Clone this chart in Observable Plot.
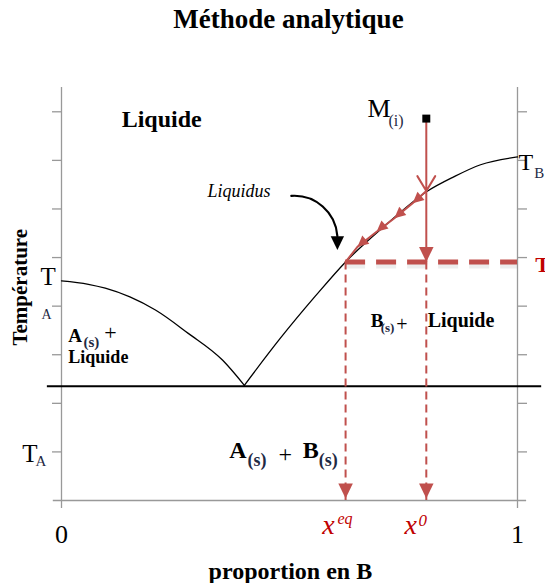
<!DOCTYPE html>
<html><head><meta charset="utf-8">
<script src="https://cdn.jsdelivr.net/npm/d3@7"></script>
<script src="https://cdn.jsdelivr.net/npm/@observablehq/plot@0.6"></script>
<style>
body{margin:0;background:#fff;width:545px;height:583px;overflow:hidden;}
#title{height:44px;padding-top:6px;padding-left:32px;text-align:center;font:bold 27px/27px "Liberation Serif","Times New Roman",Times,"DejaVu Serif",serif;color:#000;}
#chart svg{display:block;}
#chart svg, #chart svg text{font-family:"Liberation Serif","Times New Roman",Times,"DejaVu Serif",serif !important;}
</style></head><body>
<div id="title">Méthode analytique</div>
<div id="chart"></div>
<script>
// ---- data (x = proportion en B, T = temperature in tick units) ----
const liquidusA_x = [0, 0.059, 0.096, 0.15, 0.206, 0.278, 0.353, 0.401];
const liquidusA_T = [4.52, 4.45, 4.37, 4.19, 3.92, 3.44, 2.89, 2.37];
const liquidusB_x = [0.401, 0.480, 0.557, 0.623, 0.711, 0.803, 0.860, 0.919, 1.0];
const liquidusB_T = [2.37, 3.34, 4.21, 4.91, 5.67, 6.37, 6.66, 6.91, 7.07];
const T_eutectic = 2.35;
const T_level = 4.91;
const x_eq = 0.623;
const x_0 = 0.800;
const M_T = 7.86;
const T_cross = 6.37;
const pathX = [0.800, 0.770, 0.730, 0.691, 0.649, 0.623];
const pathT = [6.37, 6.12, 5.81, 5.53, 5.22, 4.91];
const pointer = {x1: 0.504, T1: 6.27, x2: 0.605, T2: 5.44, tipT: 5.155};
const yTicks = [1, 2, 3, 4, 5, 6, 7, 8];
const xTicks = [0, 1];
const T_max = 8.5;

// ---- derived tables ----
const curveA = liquidusA_x.map((x, i) => ({x, T: liquidusA_T[i]}));
const curveB = liquidusB_x.map((x, i) => ({x, T: liquidusB_T[i]}));
const pathPts = pathX.map((x, i) => ({x, T: pathT[i]}));
const headPts = pathPts.slice(1, 5);
const drops = [x_eq, x_0];

const red = "#c0504d";
const darkRed = "#c00000";
const grey = "#999";
const navy = "#1f2a44";
const serif = "'Liberation Serif','Times New Roman',Times,'DejaVu Serif',serif";

// downward triangle with its tip on the anchor point
const downTri = {
  draw(ctx, size) {
    const r = Math.sqrt(size / Math.PI);
    const w = 1.45 * r, h = 3 * r;
    ctx.moveTo(0, 0);
    ctx.lineTo(-w, -h);
    ctx.lineTo(w, -h);
    ctx.closePath();
  }
};

function label(text, x, y, size, o = {}) {
  return Plot.text([{text, x, y}], {
    x: "x", y: "y", text: "text", fontSize: size, fontFamily: serif,
    textAnchor: o.anchor || "start", lineAnchor: o.line || "bottom",
    fontWeight: o.weight || "normal", fontStyle: o.style || "normal",
    fill: o.fill || "black", rotate: o.rotate || 0
  });
}

const chart = Plot.plot({
  width: 545,
  height: 533,
  marginTop: 37,
  marginBottom: 83,
  marginLeft: 61,
  marginRight: 28,
  x: {domain: [0, 1]},
  y: {domain: [0, T_max]},
  style: {fontFamily: serif, background: "white", color: "black"},
  marks: [
    // frame & axes
    Plot.ruleX(xTicks, {y1: 0, y2: T_max, stroke: grey, strokeWidth: 1.3}),
    Plot.ruleY([0], {x1: -0.018, x2: 1.02, stroke: grey, strokeWidth: 1.3}),
    Plot.axisY(yTicks, {anchor: "left", tickSize: 9, tickFormat: () => "", stroke: grey, strokeWidth: 1.3, label: null}),
    Plot.axisY(yTicks, {anchor: "right", tickSize: 9, tickFormat: () => "", stroke: grey, strokeWidth: 1.3, label: null}),
    Plot.axisX(xTicks, {tickSize: 8, tickPadding: 16, fontSize: 26, fontFamily: serif, stroke: grey, strokeWidth: 1.3, fill: "black", tickFormat: d => String(d), label: null}),
    // eutectic line
    Plot.ruleY([T_eutectic], {x1: -0.031, x2: 1.053, stroke: "black", strokeWidth: 2}),
    // liquidus curves
    Plot.line(curveA, {x: "x", y: "T", curve: "monotone-x", stroke: "black", strokeWidth: 1.3}),
    Plot.line(curveB, {x: "x", y: "T", curve: "monotone-x", stroke: "black", strokeWidth: 1.3}),
    // horizontal T level (thick dashes with soft shadow)
    Plot.ruleY([T_level], {x1: x_eq, x2: 1.0, dy: 4, stroke: "#888", strokeOpacity: 0.15, strokeWidth: 5, strokeDasharray: "20,11"}),
    Plot.ruleY([T_level], {x1: x_eq, x2: 1.0, stroke: red, strokeWidth: 5, strokeDasharray: "20,11"}),
    // dashed drops to the x axis
    Plot.ruleX(drops, {y1: T_level, y2: 0, stroke: red, strokeWidth: 2, strokeDasharray: "8,5"}),
    Plot.dot(drops, {x: d => d, y: () => 0, dy: -2, symbol: downTri, r: 5, fill: red, stroke: "none"}),
    // vertical cooling path from M
    Plot.arrow([{x1: x_0, T1: M_T, x2: x_0, T2: T_cross}], {x1: "x1", y1: "T1", x2: "x2", y2: "T2", stroke: red, strokeWidth: 2, headLength: 13, headAngle: 62}),
    Plot.link([{x1: x_0, T1: T_cross, x2: x_0, T2: T_level}], {x1: "x1", y1: "T1", x2: "x2", y2: "T2", stroke: red, strokeWidth: 2}),
    Plot.dot([x_0], {x: d => d, y: () => T_level, symbol: downTri, r: 5, fill: red, stroke: "none"}),
    // path along the liquidus with small filled heads
    Plot.line(pathPts, {x: "x", y: "T", stroke: red, strokeWidth: 2}),
    Plot.dot(headPts, {x: "x", y: "T", symbol: downTri, r: 3.7, rotate: 49, fill: red, stroke: "none"}),
    // M point
    Plot.dot([x_0], {x: d => d, y: () => M_T, symbol: "square", r: 4.5, fill: "black"}),
    // Liquidus pointer
    Plot.arrow([pointer], {x1: "x1", y1: "T1", x2: "x2", y2: "T2", bend: 45, headLength: 0, stroke: "black", strokeWidth: 2.2}),
    Plot.dot([pointer], {x: "x2", y: "tipT", symbol: downTri, r: 4.6, fill: "black", stroke: "none"}),
    // labels
    label("Liquide", 0.132, 7.69, 24, {weight: "bold"}),
    label("Liquidus", 0.320, 6.25, 18, {style: "italic"}),
    label("M", 0.671, 7.90, 26),
    label("(i)", 0.717, 7.71, 16, {fill: navy}),
    label("T", 1.002, 6.80, 24),
    label("B", 1.037, 6.64, 15, {fill: navy}),
    label("T", 1.039, 4.70, 22, {weight: "bold", fill: darkRed}),
    label("T", -0.046, 4.43, 25),
    label("A", -0.044, 3.73, 14, {fill: navy}),
    label("T", -0.086, 0.80, 25),
    label("A", -0.057, 0.70, 15, {fill: navy}),
    label("A", 0.015, 3.26, 19, {weight: "bold"}),
    label("(s)", 0.048, 3.15, 15, {weight: "bold", fill: navy}),
    label("+", 0.094, 3.30, 22),
    label("Liquide", 0.015, 2.82, 18, {weight: "bold"}),
    label("B", 0.678, 3.57, 19, {weight: "bold"}),
    label("(s)", 0.700, 3.46, 13, {weight: "bold", fill: navy}),
    label("+", 0.734, 3.48, 20),
    label("Liquide", 0.803, 3.57, 20, {weight: "bold"}),
    label("A", 0.368, 0.87, 24, {weight: "bold"}),
    label("(s)", 0.408, 0.72, 18, {weight: "bold", fill: navy}),
    label("+", 0.476, 0.80, 24),
    label("B", 0.529, 0.87, 24, {weight: "bold"}),
    label("(s)", 0.564, 0.72, 18, {weight: "bold", fill: navy}),
    label("x", 0.572, -0.68, 28, {style: "italic", fill: darkRed}),
    label("eq", 0.605, -0.49, 16, {style: "italic", fill: darkRed}),
    label("x", 0.752, -0.68, 28, {style: "italic", fill: darkRed}),
    label("0", 0.783, -0.52, 17, {style: "italic", fill: darkRed}),
    label("proportion en B", 0.502, -1.61, 24, {weight: "bold", anchor: "middle"}),
    label("Température", -0.09, 4.39, 21, {weight: "bold", anchor: "middle", line: "middle", rotate: -90})
  ]
});
document.getElementById("chart").appendChild(chart);
</script>
</body></html>
